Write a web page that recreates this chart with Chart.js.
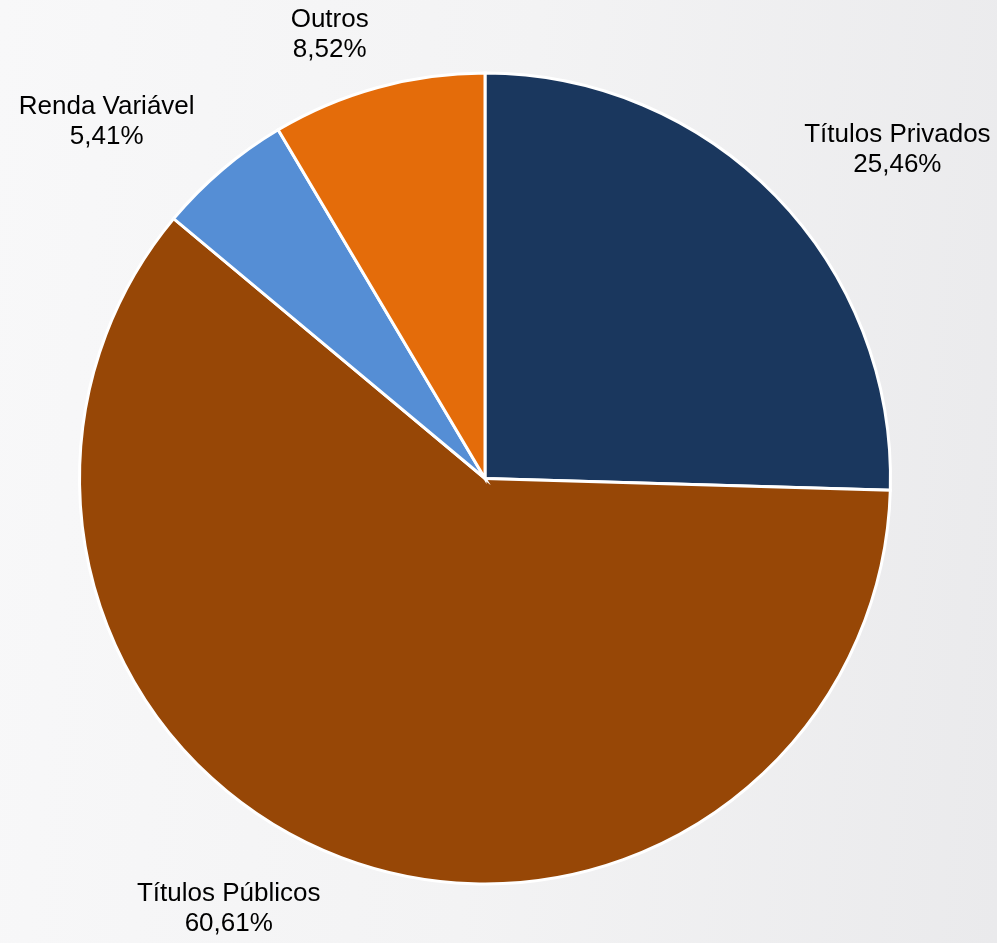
<!DOCTYPE html>
<html>
<head>
<meta charset="utf-8">
<script src="https://cdn.jsdelivr.net/npm/chart.js@4"></script>
<style>
html,body{margin:0;padding:0;}
body{width:997px;height:943px;overflow:hidden;background:linear-gradient(95deg,#f8f8f9 0%,#f3f3f4 50%,#eaeaec 100%);}
#wrap{width:997px;height:943px;position:relative;}
canvas{display:block;}
</style>
</head>
<body>
<div id="wrap"><canvas id="c" width="997" height="943"></canvas></div>
<script>
const categories = ["Títulos Privados", "Títulos Públicos", "Renda Variável", "Outros"];
const shares = [25.46, 60.61, 5.41, 8.52];
const valueLabels = ["25,46%", "60,61%", "5,41%", "8,52%"];
const sliceColors = ["#1a375e", "#974706", "#558ed5", "#e46c0a"];
// label centres relative to pie centre, in units of the radius
const labelOffsets = [[1.017, -0.81], [-0.632, 1.062], [-0.933, -0.879], [-0.383, -1.094]];

const labelPlugin = {
  id: 'outsideLabels',
  afterDatasetsDraw(chart) {
    const ctx = chart.ctx;
    const meta = chart.getDatasetMeta(0);
    ctx.save();
    ctx.font = '26px "Liberation Sans", Arial, sans-serif';
    ctx.fillStyle = '#000';
    ctx.textAlign = 'center';
    ctx.textBaseline = 'middle';
    meta.data.forEach((arc, i) => {
      const r = arc.outerRadius;
      const cx = arc.x + labelOffsets[i][0] * r;
      const cy = arc.y + labelOffsets[i][1] * r;
      ctx.fillText(categories[i], cx, cy - 15);
      ctx.fillText(valueLabels[i], cx, cy + 15);
    });
    ctx.restore();
  }
};

new Chart(document.getElementById('c'), {
  type: 'pie',
  data: {
    labels: categories,
    datasets: [{
      data: shares,
      backgroundColor: sliceColors,
      borderColor: '#ffffff',
      borderWidth: 3,
      borderJoinStyle: 'miter'
    }]
  },
  options: {
    responsive: false,
    animation: false,
    layout: { padding: { left: 78, right: 105, top: 71, bottom: 57 } },
    plugins: { legend: { display: false }, tooltip: { enabled: false } }
  },
  plugins: [labelPlugin]
});
</script>
</body>
</html>
